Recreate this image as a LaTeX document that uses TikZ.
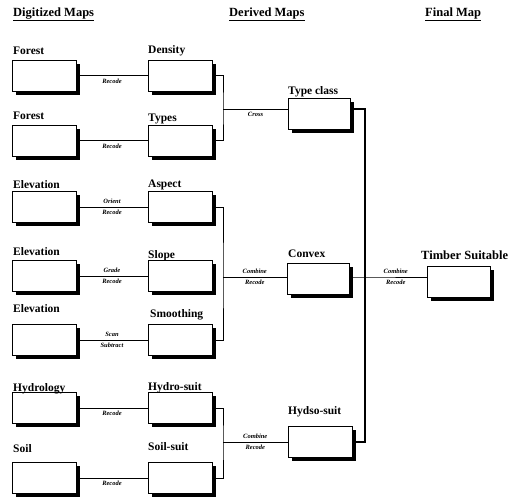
\documentclass[tikz,border=0pt]{standalone}
\usepackage{fontspec}
\setmainfont{Liberation Serif}
\usetikzlibrary{shadows}

\tikzset{
  mapbox/.style={draw, fill=white, line width=0.9pt, minimum width=64pt, minimum height=31pt,
    drop shadow={shadow xshift=3.5pt, shadow yshift=-3.5pt, fill=black, opacity=1}},
  maplabel/.style={font=\fontsize{11.5}{13}\selectfont\bfseries, anchor=base west, inner sep=0pt},
  bigmaplabel/.style={maplabel, font=\fontsize{12.5}{14}\selectfont\bfseries},
  heading/.style={font=\fontsize{12.5}{15}\selectfont\bfseries, anchor=base west, inner sep=0pt},
  oplabel/.style={font=\fontsize{6.5}{7}\selectfont\bfseries\itshape, inner sep=3pt},
  link/.style={line width=0.8pt},
}

\begin{document}
\begin{tikzpicture}[x=1pt, y=-1pt]
    \useasboundingbox (0,0) rectangle (515,501);

    % 标题
    \node[heading] (hDigit) at (13,16) {\underline{Digitized Maps}};
    \node[heading] (hDerived) at (229,16) {\underline{Derived Maps}};
    \node[heading] (hFinal) at (425,16) {\underline{Final Map}};

    % 原始地图
    \node[mapbox] (forestA) at (44,75.5) {};
    \node[mapbox] (forestB) at (44,140.5) {};
    \node[mapbox] (elevA) at (44,207) {};
    \node[mapbox] (elevB) at (44,276) {};
    \node[mapbox] (elevC) at (44,340) {};
    \node[mapbox] (hydro) at (44,408) {};
    \node[mapbox] (soil) at (44,478) {};
    \node[maplabel] (tForestA) at (13,54) {Forest};
    \node[maplabel] (tForestB) at (13,119) {Forest};
    \node[maplabel] (tElevA) at (13,188) {Elevation};
    \node[maplabel] (tElevB) at (13,255) {Elevation};
    \node[maplabel] (tElevC) at (13,312) {Elevation};
    \node[maplabel] (tHydro) at (13,391) {Hydrology};
    \node[maplabel] (tSoil) at (13,452) {Soil};

    % 派生地图
    \node[mapbox] (density) at (180,75.5) {};
    \node[mapbox] (types) at (180,140.5) {};
    \node[mapbox] (aspect) at (180,207) {};
    \node[mapbox] (slope) at (180,276) {};
    \node[mapbox] (smoothing) at (180,340) {};
    \node[mapbox] (hydrosuit) at (180,408) {};
    \node[mapbox] (soilsuit) at (180,478) {};
    \node[maplabel] (tDensity) at (148,53) {Density};
    \node[maplabel] (tTypes) at (148,121) {Types};
    \node[maplabel] (tAspect) at (148,187) {Aspect};
    \node[maplabel] (tSlope) at (148,258) {Slope};
    \node[maplabel] (tSmoothing) at (150,317) {Smoothing};
    \node[maplabel] (tHydrosuit) at (148,390) {Hydro-suit};
    \node[maplabel] (tSoilsuit) at (148,450) {Soil-suit};

    \node[mapbox, minimum width=62pt] (typeclass) at (319.5,114) {};
    \node[mapbox, minimum width=62pt] (convex) at (318,278.5) {};
    \node[mapbox] (hydsosuit) at (320,442) {};
    \node[maplabel] (tTypeclass) at (288,94) {Type class};
    \node[maplabel] (tConvex) at (288,257) {Convex};
    \node[maplabel] (tHydsosuit) at (288,414) {Hydso-suit};

    % 最终地图
    \node[mapbox, minimum width=63pt] (timber) at (458.5,282) {};
    \node[bigmaplabel] (tTimber) at (421,259) {Timber Suitable};

    % 第一级操作
    \draw[link] (forestA.east) -- node[oplabel, below] (opA) {Recode} (density.west);
    \draw[link] (forestB.east) -- node[oplabel, below] (opB) {Recode} (types.west);
    \draw[link] (elevA.east) -- node[oplabel, above] (opC1) {Orient}
                               node[oplabel, below] (opC2) {Recode} (aspect.west);
    \draw[link] (elevB.east) -- node[oplabel, above] (opD1) {Grade}
                               node[oplabel, below] (opD2) {Recode} (slope.west);
    \draw[link] (elevC.east) -- node[oplabel, above] (opE1) {Scan}
                               node[oplabel, below] (opE2) {Subtract} (smoothing.west);
    \draw[link] (hydro.east) -- node[oplabel, below] (opF) {Recode} (hydrosuit.west);
    \draw[link] (soil.east) -- node[oplabel, below] (opG) {Recode} (soilsuit.west);

    % 第二级操作（括号连线）
    \coordinate (crossjoin) at (223,109);
    \coordinate (combjoin) at (223,277);
    \coordinate (suitjoin) at (223,442);
    \draw[link] (density.east) -| (crossjoin) |- (types.east);
    \draw[link] (crossjoin) -- node[oplabel, below] (opCross) {Cross} (crossjoin -| typeclass.west);
    \draw[link] (aspect.east) -| (combjoin) |- (smoothing.east);
    \draw[link] (combjoin) -- node[oplabel, above] (opComb1) {Combine}
                              node[oplabel, below] (opComb2) {Recode} (combjoin -| convex.west);
    \draw[link] (hydrosuit.east) -| (suitjoin) |- (soilsuit.east);
    \draw[link] (suitjoin) -- node[oplabel, above] (opSuit1) {Combine}
                              node[oplabel, below] (opSuit2) {Recode} (hydsosuit.west);

    % 最终合并
    \coordinate (trunk) at (365,277);
    \coordinate (trunktop) at (365,109);
    \draw[line width=1.1pt] (trunktop -| typeclass.east) -- (trunktop) -- (trunk) |- (hydsosuit.east);
    \draw[link] (trunk -| convex.east) -- (trunk) -- node[oplabel, above] (opFin1) {Combine}
                                            node[oplabel, below] (opFin2) {Recode} (trunk -| timber.west);
\end{tikzpicture}
\end{document}
